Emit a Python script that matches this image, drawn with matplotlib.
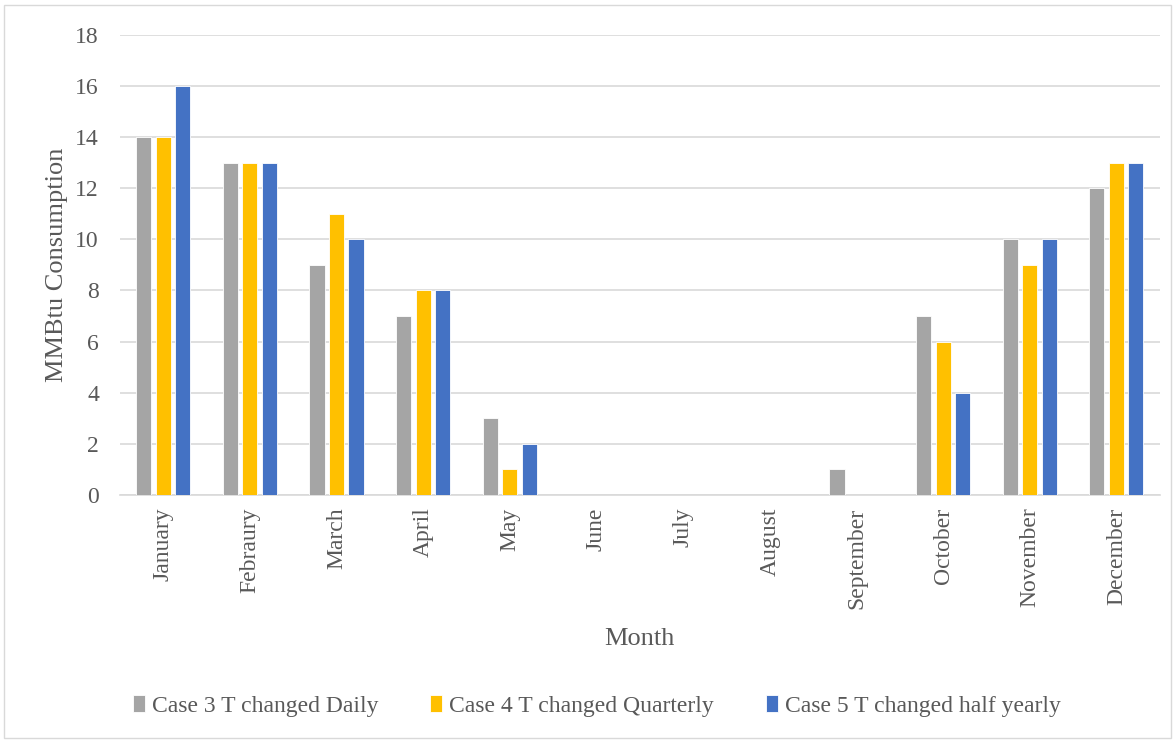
import matplotlib
matplotlib.use("Agg")
import matplotlib.pyplot as plt
import numpy as np
from matplotlib.patches import Rectangle

plt.rcParams['font.family'] = ['Liberation Serif', 'DejaVu Serif']

months = ["January", "Febraury", "March", "April", "May", "June", "July",
          "August", "September", "October", "November", "December"]
case3_daily = [14, 13, 9, 7, 3, 0, 0, 0, 1, 7, 10, 12]
case4_quarterly = [14, 13, 11, 8, 1, 0, 0, 0, 0, 6, 9, 13]
case5_half_yearly = [16, 13, 10, 8, 2, 0, 0, 0, 0, 4, 10, 13]

series = [
    ("Case 3 T changed Daily", case3_daily, "#A5A5A5"),
    ("Case 4 T changed Quarterly", case4_quarterly, "#FFC000"),
    ("Case 5 T changed half yearly", case5_half_yearly, "#4472C4"),
]

text_color = "#595959"
fig = plt.figure(figsize=(11.75, 7.40), dpi=100)
ax = fig.add_axes([0.102, 0.331, 0.885, 0.622])

x = np.arange(len(months))
stride = 0.225
width = 0.175
for i, (label, vals, color) in enumerate(series):
    ax.bar(x + (i - 1) * stride, vals, width=width, color=color,
           edgecolor="#FFFFFF", linewidth=0.6, label=label, zorder=3)

ax.set_xlim(-0.5, len(months) - 0.5)
ax.set_ylim(0, 18)
ax.set_yticks(np.arange(0, 19, 2))
ax.grid(axis="y", color="#D9D9D9", linewidth=1.2, zorder=0)
for s in ["top", "right", "left"]:
    ax.spines[s].set_visible(False)
ax.spines["bottom"].set_color("#D9D9D9")
ax.spines["bottom"].set_linewidth(1.2)
ax.set_xticks(x)
ax.set_xticklabels(months, rotation=90, fontsize=17, color=text_color)
ax.tick_params(axis="both", length=0, labelsize=17, colors=text_color, pad=9)
ax.tick_params(axis="y", pad=15)
ax.set_ylabel("MMBtu Consumption", fontsize=19, color=text_color, labelpad=5)
ax.set_xlabel("Month", fontsize=19, color=text_color, labelpad=14)

fig.legend(*ax.get_legend_handles_labels(), loc="center",
           bbox_to_anchor=(0.508, 0.046), ncol=3, frameon=False,
           fontsize=17, labelcolor=text_color, handlelength=0.5,
           handleheight=0.75, handletextpad=0.3, columnspacing=2.2)

fig.patches.append(Rectangle((0.003, 0.003), 0.994, 0.99, transform=fig.transFigure,
                             fill=False, edgecolor="#D9D9D9", linewidth=1))

fig.savefig("out.png", dpi=100, facecolor="white")
